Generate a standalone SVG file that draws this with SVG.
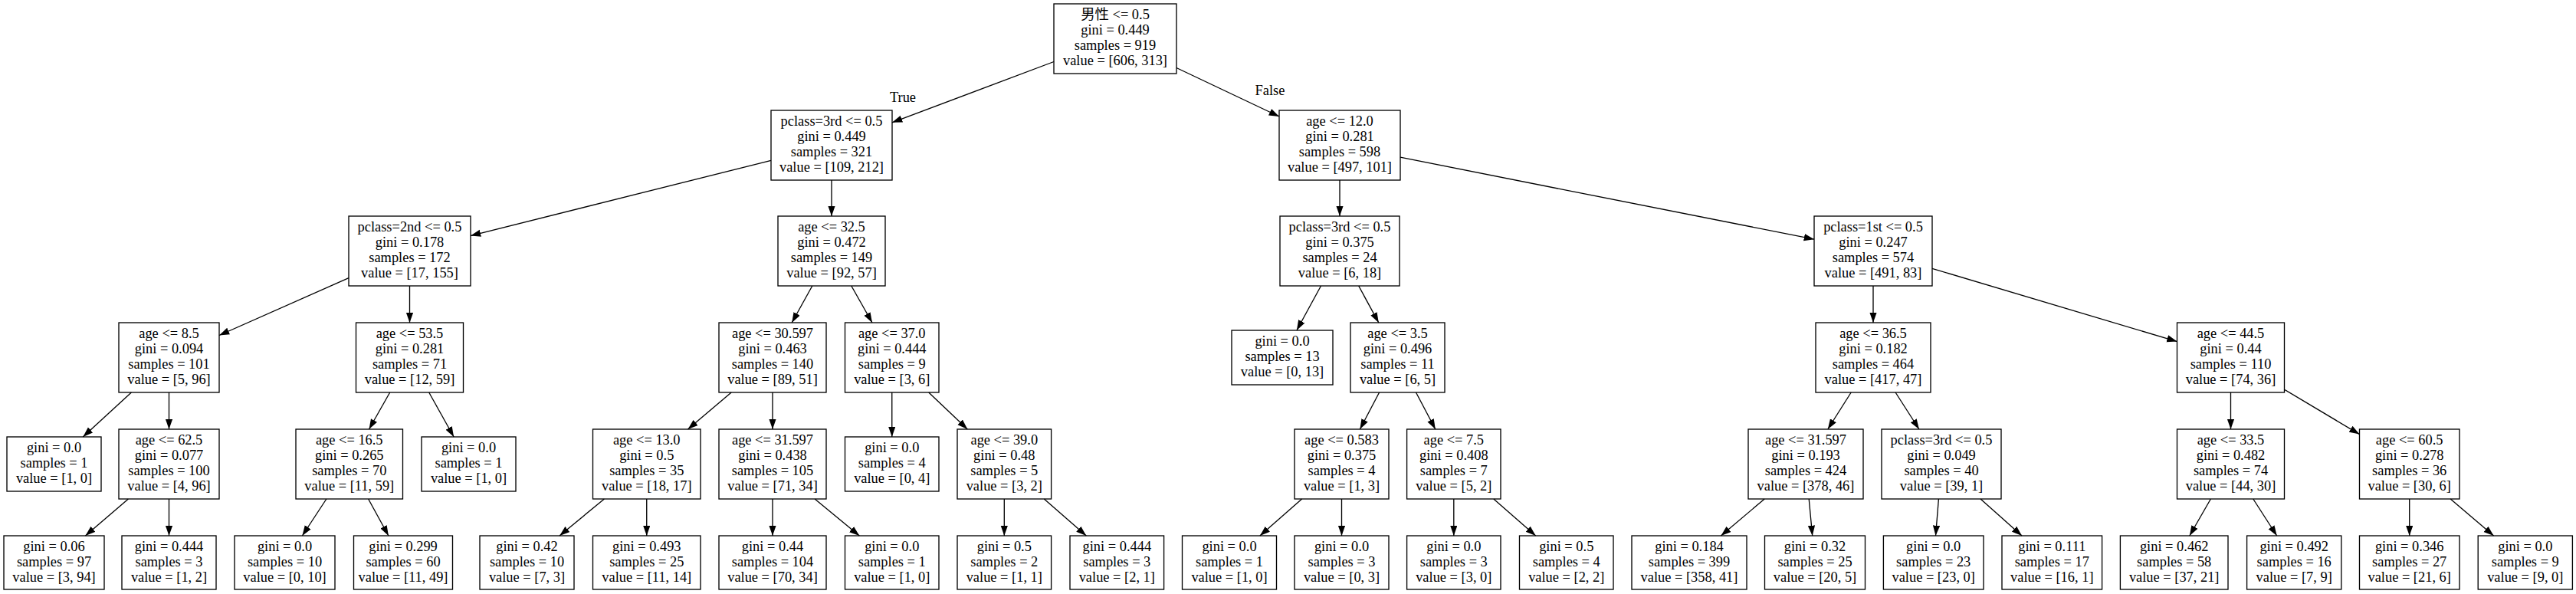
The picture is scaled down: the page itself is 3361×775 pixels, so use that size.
<svg xmlns="http://www.w3.org/2000/svg" width="3361" height="775" viewBox="0 0 3361 775">
<style>
.n{fill:none;stroke:#000;stroke-width:1.33}
.t{font-family:"Liberation Serif","Noto Sans CJK SC",serif;font-size:18.4px;text-anchor:middle;fill:#000}
.e line{stroke:#000;stroke-width:1.33;marker-end:url(#ah)}
</style>
<defs>
<marker id="ah" markerWidth="14" markerHeight="10" refX="13.3" refY="4.65" orient="auto" markerUnits="userSpaceOnUse"><path d="M0,0 L13.3,4.65 L0,9.3 z" fill="#000"/></marker>
</defs>
<rect x="0" y="0" width="3361" height="775" fill="#fff"/>
<g id="edges" class="e">
<line x1="1375" y1="80.5" x2="1164" y2="159.8"/>
<line x1="1535" y1="88.5" x2="1669" y2="152"/>
<line x1="1006" y1="209.3" x2="614" y2="307.6"/>
<line x1="1085" y1="235" x2="1085" y2="282"/>
<line x1="455" y1="362.7" x2="286" y2="437.5"/>
<line x1="534.5" y1="373" x2="534.5" y2="421"/>
<line x1="171.4" y1="512" x2="108.3" y2="570"/>
<line x1="220.5" y1="512" x2="220.5" y2="560"/>
<line x1="167.4" y1="651" x2="111.4" y2="699"/>
<line x1="220.5" y1="651" x2="220.5" y2="699"/>
<line x1="508.7" y1="512" x2="481.5" y2="560"/>
<line x1="559.7" y1="512" x2="592.1" y2="570"/>
<line x1="425.9" y1="651" x2="394.4" y2="699"/>
<line x1="480.6" y1="651" x2="506.9" y2="699"/>
<line x1="1059.8" y1="373" x2="1033.2" y2="421"/>
<line x1="1110.8" y1="373" x2="1138" y2="421"/>
<line x1="954.2" y1="512" x2="897.5" y2="560"/>
<line x1="1008" y1="512" x2="1008" y2="560"/>
<line x1="788.4" y1="651" x2="730.1" y2="699"/>
<line x1="843.75" y1="651" x2="843.75" y2="699"/>
<line x1="1008" y1="651" x2="1008" y2="699"/>
<line x1="1063.1" y1="651" x2="1121.3" y2="699"/>
<line x1="1163.75" y1="512" x2="1163.75" y2="570"/>
<line x1="1211.7" y1="512" x2="1262.3" y2="560"/>
<line x1="1310.3" y1="651" x2="1310.3" y2="699"/>
<line x1="1362.3" y1="651" x2="1417.3" y2="699"/>
<line x1="1748" y1="235" x2="1748" y2="282"/>
<line x1="1827" y1="205.2" x2="2367" y2="312.2"/>
<line x1="1723.5" y1="373" x2="1691.9" y2="431"/>
<line x1="1772.7" y1="373" x2="1798.8" y2="421"/>
<line x1="1799.6" y1="512" x2="1774.4" y2="560"/>
<line x1="1847.5" y1="512" x2="1872.8" y2="560"/>
<line x1="1698.6" y1="651" x2="1643.9" y2="699"/>
<line x1="1750.5" y1="651" x2="1750.5" y2="699"/>
<line x1="1896.8" y1="651" x2="1896.8" y2="699"/>
<line x1="1948.8" y1="651" x2="2003.7" y2="699"/>
<line x1="2444" y1="373" x2="2444" y2="421"/>
<line x1="2521" y1="350.4" x2="2840.5" y2="445.6"/>
<line x1="2415.2" y1="512" x2="2384.8" y2="560"/>
<line x1="2473.1" y1="512" x2="2503.9" y2="560"/>
<line x1="2302.2" y1="651" x2="2245.4" y2="699"/>
<line x1="2360.2" y1="651" x2="2364.7" y2="699"/>
<line x1="2529.4" y1="651" x2="2525.5" y2="699"/>
<line x1="2584.1" y1="651" x2="2638" y2="699"/>
<line x1="2910.5" y1="512" x2="2910.5" y2="560"/>
<line x1="2980.5" y1="508.2" x2="3078.5" y2="566.6"/>
<line x1="2884.4" y1="651" x2="2856.8" y2="699"/>
<line x1="2939.8" y1="651" x2="2970.7" y2="699"/>
<line x1="3143.7" y1="651" x2="3143.7" y2="699"/>
<line x1="3197.2" y1="651" x2="3253.6" y2="699"/>
<text class="t" x="1178" y="133">True</text>
<text class="t" x="1657" y="124">False</text>
</g>
<g id="n0"><rect class="n" x="1375" y="5" width="160" height="91"/><text class="t"><tspan x="1455" y="24.8">男性 &lt;= 0.5</tspan><tspan x="1455" y="44.7">gini = 0.449</tspan><tspan x="1455" y="64.6">samples = 919</tspan><tspan x="1455" y="84.5">value = [606, 313]</tspan></text></g>
<g id="n1"><rect class="n" x="1006" y="144" width="158" height="91"/><text class="t"><tspan x="1085" y="163.8">pclass=3rd &lt;= 0.5</tspan><tspan x="1085" y="183.7">gini = 0.449</tspan><tspan x="1085" y="203.6">samples = 321</tspan><tspan x="1085" y="223.5">value = [109, 212]</tspan></text></g>
<g id="n2"><rect class="n" x="455" y="282" width="159" height="91"/><text class="t"><tspan x="534.5" y="301.8">pclass=2nd &lt;= 0.5</tspan><tspan x="534.5" y="321.7">gini = 0.178</tspan><tspan x="534.5" y="341.6">samples = 172</tspan><tspan x="534.5" y="361.5">value = [17, 155]</tspan></text></g>
<g id="n3"><rect class="n" x="155" y="421" width="131" height="91"/><text class="t"><tspan x="220.5" y="440.8">age &lt;= 8.5</tspan><tspan x="220.5" y="460.7">gini = 0.094</tspan><tspan x="220.5" y="480.6">samples = 101</tspan><tspan x="220.5" y="500.5">value = [5, 96]</tspan></text></g>
<g id="n4"><rect class="n" x="9" y="570" width="123" height="71"/><text class="t"><tspan x="70.5" y="589.8">gini = 0.0</tspan><tspan x="70.5" y="609.7">samples = 1</tspan><tspan x="70.5" y="629.6">value = [1, 0]</tspan></text></g>
<g id="n5"><rect class="n" x="155" y="560" width="131" height="91"/><text class="t"><tspan x="220.5" y="579.8">age &lt;= 62.5</tspan><tspan x="220.5" y="599.7">gini = 0.077</tspan><tspan x="220.5" y="619.6">samples = 100</tspan><tspan x="220.5" y="639.5">value = [4, 96]</tspan></text></g>
<g id="n6"><rect class="n" x="5" y="699" width="131" height="70"/><text class="t"><tspan x="70.5" y="718.8">gini = 0.06</tspan><tspan x="70.5" y="738.7">samples = 97</tspan><tspan x="70.5" y="758.6">value = [3, 94]</tspan></text></g>
<g id="n7"><rect class="n" x="159" y="699" width="123" height="70"/><text class="t"><tspan x="220.5" y="718.8">gini = 0.444</tspan><tspan x="220.5" y="738.7">samples = 3</tspan><tspan x="220.5" y="758.6">value = [1, 2]</tspan></text></g>
<g id="n8"><rect class="n" x="464.5" y="421" width="140" height="91"/><text class="t"><tspan x="534.5" y="440.8">age &lt;= 53.5</tspan><tspan x="534.5" y="460.7">gini = 0.281</tspan><tspan x="534.5" y="480.6">samples = 71</tspan><tspan x="534.5" y="500.5">value = [12, 59]</tspan></text></g>
<g id="n9"><rect class="n" x="386" y="560" width="139.5" height="91"/><text class="t"><tspan x="455.75" y="579.8">age &lt;= 16.5</tspan><tspan x="455.75" y="599.7">gini = 0.265</tspan><tspan x="455.75" y="619.6">samples = 70</tspan><tspan x="455.75" y="639.5">value = [11, 59]</tspan></text></g>
<g id="n10"><rect class="n" x="306" y="699" width="131" height="70"/><text class="t"><tspan x="371.5" y="718.8">gini = 0.0</tspan><tspan x="371.5" y="738.7">samples = 10</tspan><tspan x="371.5" y="758.6">value = [0, 10]</tspan></text></g>
<g id="n11"><rect class="n" x="461.5" y="699" width="129" height="70"/><text class="t"><tspan x="526" y="718.8">gini = 0.299</tspan><tspan x="526" y="738.7">samples = 60</tspan><tspan x="526" y="758.6">value = [11, 49]</tspan></text></g>
<g id="n12"><rect class="n" x="550" y="570" width="123" height="71"/><text class="t"><tspan x="611.5" y="589.8">gini = 0.0</tspan><tspan x="611.5" y="609.7">samples = 1</tspan><tspan x="611.5" y="629.6">value = [1, 0]</tspan></text></g>
<g id="n13"><rect class="n" x="1015" y="282" width="140" height="91"/><text class="t"><tspan x="1085" y="301.8">age &lt;= 32.5</tspan><tspan x="1085" y="321.7">gini = 0.472</tspan><tspan x="1085" y="341.6">samples = 149</tspan><tspan x="1085" y="361.5">value = [92, 57]</tspan></text></g>
<g id="n14"><rect class="n" x="938" y="421" width="140" height="91"/><text class="t"><tspan x="1008" y="440.8">age &lt;= 30.597</tspan><tspan x="1008" y="460.7">gini = 0.463</tspan><tspan x="1008" y="480.6">samples = 140</tspan><tspan x="1008" y="500.5">value = [89, 51]</tspan></text></g>
<g id="n15"><rect class="n" x="773.5" y="560" width="140.5" height="91"/><text class="t"><tspan x="843.75" y="579.8">age &lt;= 13.0</tspan><tspan x="843.75" y="599.7">gini = 0.5</tspan><tspan x="843.75" y="619.6">samples = 35</tspan><tspan x="843.75" y="639.5">value = [18, 17]</tspan></text></g>
<g id="n16"><rect class="n" x="626" y="699" width="123" height="70"/><text class="t"><tspan x="687.5" y="718.8">gini = 0.42</tspan><tspan x="687.5" y="738.7">samples = 10</tspan><tspan x="687.5" y="758.6">value = [7, 3]</tspan></text></g>
<g id="n17"><rect class="n" x="773.5" y="699" width="140.5" height="70"/><text class="t"><tspan x="843.75" y="718.8">gini = 0.493</tspan><tspan x="843.75" y="738.7">samples = 25</tspan><tspan x="843.75" y="758.6">value = [11, 14]</tspan></text></g>
<g id="n18"><rect class="n" x="938" y="560" width="140" height="91"/><text class="t"><tspan x="1008" y="579.8">age &lt;= 31.597</tspan><tspan x="1008" y="599.7">gini = 0.438</tspan><tspan x="1008" y="619.6">samples = 105</tspan><tspan x="1008" y="639.5">value = [71, 34]</tspan></text></g>
<g id="n19"><rect class="n" x="938" y="699" width="140" height="70"/><text class="t"><tspan x="1008" y="718.8">gini = 0.44</tspan><tspan x="1008" y="738.7">samples = 104</tspan><tspan x="1008" y="758.6">value = [70, 34]</tspan></text></g>
<g id="n20"><rect class="n" x="1102.5" y="699" width="122.5" height="70"/><text class="t"><tspan x="1163.75" y="718.8">gini = 0.0</tspan><tspan x="1163.75" y="738.7">samples = 1</tspan><tspan x="1163.75" y="758.6">value = [1, 0]</tspan></text></g>
<g id="n21"><rect class="n" x="1102.5" y="421" width="122.5" height="91"/><text class="t"><tspan x="1163.75" y="440.8">age &lt;= 37.0</tspan><tspan x="1163.75" y="460.7">gini = 0.444</tspan><tspan x="1163.75" y="480.6">samples = 9</tspan><tspan x="1163.75" y="500.5">value = [3, 6]</tspan></text></g>
<g id="n22"><rect class="n" x="1102.5" y="570" width="122.5" height="71"/><text class="t"><tspan x="1163.75" y="589.8">gini = 0.0</tspan><tspan x="1163.75" y="609.7">samples = 4</tspan><tspan x="1163.75" y="629.6">value = [0, 4]</tspan></text></g>
<g id="n23"><rect class="n" x="1249" y="560" width="122.6" height="91"/><text class="t"><tspan x="1310.3" y="579.8">age &lt;= 39.0</tspan><tspan x="1310.3" y="599.7">gini = 0.48</tspan><tspan x="1310.3" y="619.6">samples = 5</tspan><tspan x="1310.3" y="639.5">value = [3, 2]</tspan></text></g>
<g id="n24"><rect class="n" x="1249" y="699" width="122.6" height="70"/><text class="t"><tspan x="1310.3" y="718.8">gini = 0.5</tspan><tspan x="1310.3" y="738.7">samples = 2</tspan><tspan x="1310.3" y="758.6">value = [1, 1]</tspan></text></g>
<g id="n25"><rect class="n" x="1396" y="699" width="122.6" height="70"/><text class="t"><tspan x="1457.3" y="718.8">gini = 0.444</tspan><tspan x="1457.3" y="738.7">samples = 3</tspan><tspan x="1457.3" y="758.6">value = [2, 1]</tspan></text></g>
<g id="n26"><rect class="n" x="1669" y="144" width="158" height="91"/><text class="t"><tspan x="1748" y="163.8">age &lt;= 12.0</tspan><tspan x="1748" y="183.7">gini = 0.281</tspan><tspan x="1748" y="203.6">samples = 598</tspan><tspan x="1748" y="223.5">value = [497, 101]</tspan></text></g>
<g id="n27"><rect class="n" x="1670" y="282" width="156" height="91"/><text class="t"><tspan x="1748" y="301.8">pclass=3rd &lt;= 0.5</tspan><tspan x="1748" y="321.7">gini = 0.375</tspan><tspan x="1748" y="341.6">samples = 24</tspan><tspan x="1748" y="361.5">value = [6, 18]</tspan></text></g>
<g id="n28"><rect class="n" x="1607" y="431" width="132" height="71"/><text class="t"><tspan x="1673" y="450.8">gini = 0.0</tspan><tspan x="1673" y="470.7">samples = 13</tspan><tspan x="1673" y="490.6">value = [0, 13]</tspan></text></g>
<g id="n29"><rect class="n" x="1762" y="421" width="123" height="91"/><text class="t"><tspan x="1823.5" y="440.8">age &lt;= 3.5</tspan><tspan x="1823.5" y="460.7">gini = 0.496</tspan><tspan x="1823.5" y="480.6">samples = 11</tspan><tspan x="1823.5" y="500.5">value = [6, 5]</tspan></text></g>
<g id="n30"><rect class="n" x="1689" y="560" width="123" height="91"/><text class="t"><tspan x="1750.5" y="579.8">age &lt;= 0.583</tspan><tspan x="1750.5" y="599.7">gini = 0.375</tspan><tspan x="1750.5" y="619.6">samples = 4</tspan><tspan x="1750.5" y="639.5">value = [1, 3]</tspan></text></g>
<g id="n31"><rect class="n" x="1542.5" y="699" width="123" height="70"/><text class="t"><tspan x="1604" y="718.8">gini = 0.0</tspan><tspan x="1604" y="738.7">samples = 1</tspan><tspan x="1604" y="758.6">value = [1, 0]</tspan></text></g>
<g id="n32"><rect class="n" x="1689" y="699" width="123" height="70"/><text class="t"><tspan x="1750.5" y="718.8">gini = 0.0</tspan><tspan x="1750.5" y="738.7">samples = 3</tspan><tspan x="1750.5" y="758.6">value = [0, 3]</tspan></text></g>
<g id="n33"><rect class="n" x="1835.6" y="560" width="122.4" height="91"/><text class="t"><tspan x="1896.8" y="579.8">age &lt;= 7.5</tspan><tspan x="1896.8" y="599.7">gini = 0.408</tspan><tspan x="1896.8" y="619.6">samples = 7</tspan><tspan x="1896.8" y="639.5">value = [5, 2]</tspan></text></g>
<g id="n34"><rect class="n" x="1835.6" y="699" width="122.4" height="70"/><text class="t"><tspan x="1896.8" y="718.8">gini = 0.0</tspan><tspan x="1896.8" y="738.7">samples = 3</tspan><tspan x="1896.8" y="758.6">value = [3, 0]</tspan></text></g>
<g id="n35"><rect class="n" x="1982.5" y="699" width="122.5" height="70"/><text class="t"><tspan x="2043.75" y="718.8">gini = 0.5</tspan><tspan x="2043.75" y="738.7">samples = 4</tspan><tspan x="2043.75" y="758.6">value = [2, 2]</tspan></text></g>
<g id="n36"><rect class="n" x="2367" y="282" width="154" height="91"/><text class="t"><tspan x="2444" y="301.8">pclass=1st &lt;= 0.5</tspan><tspan x="2444" y="321.7">gini = 0.247</tspan><tspan x="2444" y="341.6">samples = 574</tspan><tspan x="2444" y="361.5">value = [491, 83]</tspan></text></g>
<g id="n37"><rect class="n" x="2369" y="421" width="150" height="91"/><text class="t"><tspan x="2444" y="440.8">age &lt;= 36.5</tspan><tspan x="2444" y="460.7">gini = 0.182</tspan><tspan x="2444" y="480.6">samples = 464</tspan><tspan x="2444" y="500.5">value = [417, 47]</tspan></text></g>
<g id="n38"><rect class="n" x="2281" y="560" width="150" height="91"/><text class="t"><tspan x="2356" y="579.8">age &lt;= 31.597</tspan><tspan x="2356" y="599.7">gini = 0.193</tspan><tspan x="2356" y="619.6">samples = 424</tspan><tspan x="2356" y="639.5">value = [378, 46]</tspan></text></g>
<g id="n39"><rect class="n" x="2129" y="699" width="150" height="70"/><text class="t"><tspan x="2204" y="718.8">gini = 0.184</tspan><tspan x="2204" y="738.7">samples = 399</tspan><tspan x="2204" y="758.6">value = [358, 41]</tspan></text></g>
<g id="n40"><rect class="n" x="2302.5" y="699" width="131" height="70"/><text class="t"><tspan x="2368" y="718.8">gini = 0.32</tspan><tspan x="2368" y="738.7">samples = 25</tspan><tspan x="2368" y="758.6">value = [20, 5]</tspan></text></g>
<g id="n41"><rect class="n" x="2455" y="560" width="156" height="91"/><text class="t"><tspan x="2533" y="579.8">pclass=3rd &lt;= 0.5</tspan><tspan x="2533" y="599.7">gini = 0.049</tspan><tspan x="2533" y="619.6">samples = 40</tspan><tspan x="2533" y="639.5">value = [39, 1]</tspan></text></g>
<g id="n42"><rect class="n" x="2457.4" y="699" width="130.6" height="70"/><text class="t"><tspan x="2522.7" y="718.8">gini = 0.0</tspan><tspan x="2522.7" y="738.7">samples = 23</tspan><tspan x="2522.7" y="758.6">value = [23, 0]</tspan></text></g>
<g id="n43"><rect class="n" x="2612" y="699" width="130.6" height="70"/><text class="t"><tspan x="2677.3" y="718.8">gini = 0.111</tspan><tspan x="2677.3" y="738.7">samples = 17</tspan><tspan x="2677.3" y="758.6">value = [16, 1]</tspan></text></g>
<g id="n44"><rect class="n" x="2840.5" y="421" width="140" height="91"/><text class="t"><tspan x="2910.5" y="440.8">age &lt;= 44.5</tspan><tspan x="2910.5" y="460.7">gini = 0.44</tspan><tspan x="2910.5" y="480.6">samples = 110</tspan><tspan x="2910.5" y="500.5">value = [74, 36]</tspan></text></g>
<g id="n45"><rect class="n" x="2840.5" y="560" width="140" height="91"/><text class="t"><tspan x="2910.5" y="579.8">age &lt;= 33.5</tspan><tspan x="2910.5" y="599.7">gini = 0.482</tspan><tspan x="2910.5" y="619.6">samples = 74</tspan><tspan x="2910.5" y="639.5">value = [44, 30]</tspan></text></g>
<g id="n46"><rect class="n" x="2766.4" y="699" width="140.6" height="70"/><text class="t"><tspan x="2836.7" y="718.8">gini = 0.462</tspan><tspan x="2836.7" y="738.7">samples = 58</tspan><tspan x="2836.7" y="758.6">value = [37, 21]</tspan></text></g>
<g id="n47"><rect class="n" x="2931.6" y="699" width="123.2" height="70"/><text class="t"><tspan x="2993.2" y="718.8">gini = 0.492</tspan><tspan x="2993.2" y="738.7">samples = 16</tspan><tspan x="2993.2" y="758.6">value = [7, 9]</tspan></text></g>
<g id="n48"><rect class="n" x="3078.5" y="560" width="130.5" height="91"/><text class="t"><tspan x="3143.7" y="579.8">age &lt;= 60.5</tspan><tspan x="3143.7" y="599.7">gini = 0.278</tspan><tspan x="3143.7" y="619.6">samples = 36</tspan><tspan x="3143.7" y="639.5">value = [30, 6]</tspan></text></g>
<g id="n49"><rect class="n" x="3078.5" y="699" width="130.5" height="70"/><text class="t"><tspan x="3143.7" y="718.8">gini = 0.346</tspan><tspan x="3143.7" y="738.7">samples = 27</tspan><tspan x="3143.7" y="758.6">value = [21, 6]</tspan></text></g>
<g id="n50"><rect class="n" x="3233.2" y="699" width="123.2" height="70"/><text class="t"><tspan x="3294.8" y="718.8">gini = 0.0</tspan><tspan x="3294.8" y="738.7">samples = 9</tspan><tspan x="3294.8" y="758.6">value = [9, 0]</tspan></text></g>
</svg>
